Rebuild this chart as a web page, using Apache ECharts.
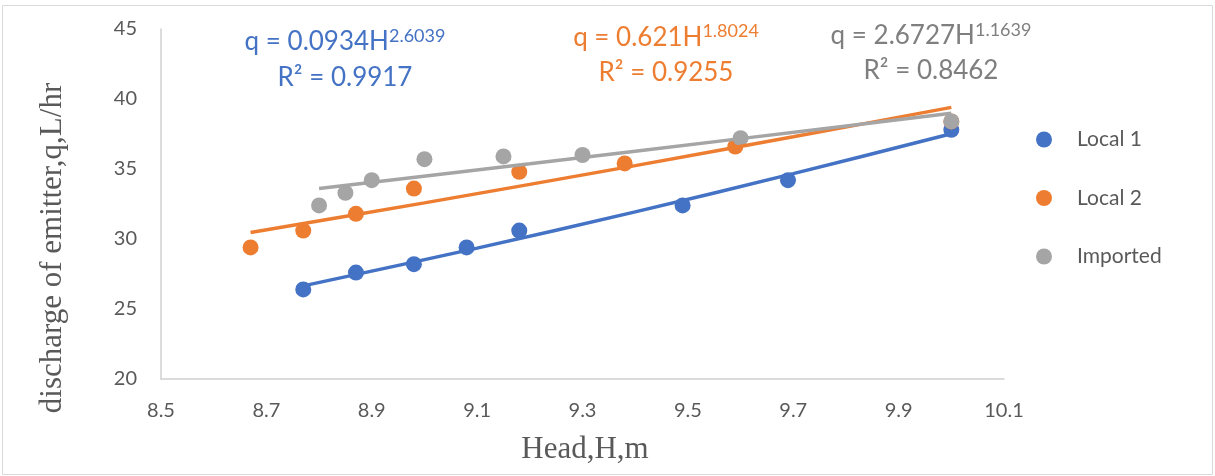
<!DOCTYPE html>
<html>
<head>
<meta charset="utf-8">
<script src="https://cdn.jsdelivr.net/npm/echarts@6/dist/echarts.min.js"></script>
<style>
html,body{margin:0;padding:0;background:#fff;}
#chart{width:1215px;height:476px;}
</style>
</head>
<body>
<div id="chart"></div>
<script>
// ---- data ----
const seriesNames = ['Local 1', 'Local 2', 'Imported'];
const local1H = [8.77, 8.87, 8.98, 9.08, 9.18, 9.49, 9.69, 10.0];
const local1Q = [26.4, 27.6, 28.2, 29.4, 30.6, 32.4, 34.2, 37.8];
const local2H = [8.67, 8.77, 8.87, 8.98, 9.18, 9.38, 9.59, 10.0];
const local2Q = [29.4, 30.6, 31.8, 33.6, 34.8, 35.4, 36.6, 38.4];
const importedH = [8.8, 8.85, 8.9, 9.0, 9.15, 9.3, 9.6, 10.0];
const importedQ = [32.4, 33.3, 34.2, 35.7, 35.9, 36.0, 37.2, 38.4];
// power trend lines
const trend1H = [8.77, 9.1, 9.4, 9.7, 10.0];
const trend1Q = [26.65, 29.35, 31.94, 34.67, 37.52];
const trend2H = [8.67, 9.0, 9.4, 9.7, 10.0];
const trend2Q = [30.46, 32.58, 35.24, 37.30, 39.40];
const trend3H = [8.8, 9.2, 9.6, 10.0];
const trend3Q = [33.60, 35.37, 37.17, 38.98];
// equation labels
const eqMain = ['q = 0.0934H', 'q = 0.621H', 'q = 2.6727H'];
const eqExp = ['2.6039', '1.8024', '1.1639'];
const eqR2 = ['R² = 0.9917', 'R² = 0.9255', 'R² = 0.8462'];
const xTickLabels = ['8.5', '8.7', '8.9', '9.1', '9.3', '9.5', '9.7', '9.9', '10.1'];
const yTickLabels = ['20', '25', '30', '35', '40', '45'];
const xTitle = 'Head,H,m';
const yTitle = 'discharge of emitter,q,L/hr';

const colors = ['#4472C4', '#ED7D31', '#A5A5A5'];
const eqColors = ['#4472C4', '#ED7D31', '#7F7F7F'];
const zip = (a, b) => a.map((v, i) => [v, b[i]]);

const chart = echarts.init(document.getElementById('chart'));
const sansFont = 'Lato, "Open Sans", sans-serif';
const serifFont = '"Liberation Serif", "DejaVu Serif", serif';

const eqPos = [
  {x: 345, y1: 42, y2: 77.5},
  {x: 666, y1: 37.5, y2: 72.5},
  {x: 931, y1: 36, y2: 71}
];

const graphics = [
  {type: 'rect', shape: {x: 2.5, y: 5.5, width: 1210, height: 469}, style: {fill: 'none', stroke: '#d9d9d9', lineWidth: 1}, silent: true, z: -1},
  {type: 'text', x: 585, y: 450, style: {text: xTitle, font: '31px ' + serifFont, fill: '#595959', align: 'center', verticalAlign: 'middle'}},
  {type: 'text', x: 53, y: 248, rotation: Math.PI / 2, style: {text: yTitle, font: '31px ' + serifFont, fill: '#595959', align: 'center', verticalAlign: 'middle'}}
];
eqPos.forEach((p, i) => {
  graphics.push({
    type: 'text', x: p.x, y: p.y1,
    style: {
      text: '{m|' + eqMain[i] + '}{e|' + eqExp[i] + '}',
      align: 'center', verticalAlign: 'middle',
      rich: {
        m: {fontFamily: sansFont, fontSize: 26, lineHeight: 30, fill: eqColors[i], verticalAlign: 'middle'},
        e: {fontFamily: sansFont, fontSize: 18, lineHeight: 18, fill: eqColors[i], verticalAlign: 'top'}
      }
    }
  });
  graphics.push({
    type: 'text', x: p.x, y: p.y2,
    style: {text: eqR2[i], font: '26px ' + sansFont, fill: eqColors[i], align: 'center', verticalAlign: 'middle'}
  });
});

const option = {
  animation: false,
  backgroundColor: '#ffffff',
  color: colors,
  grid: {left: 161, right: 211, top: 29, bottom: 97, containLabel: false},
  legend: {
    data: seriesNames,
    orient: 'vertical',
    left: 1031,
    top: 124,
    itemWidth: 16,
    itemHeight: 16,
    itemGap: 37.5,
    icon: 'circle',
    textStyle: {fontFamily: sansFont, fontSize: 21, color: '#595959', padding: [0, 0, 0, 20]}
  },
  xAxis: {
    type: 'value', min: 8.5, max: 10.1, interval: 0.2,
    axisLine: {show: true, lineStyle: {color: '#d0d0d0', width: 1.5}},
    axisTick: {show: false},
    splitLine: {show: false},
    axisLabel: {
      fontFamily: sansFont, fontSize: 20, color: '#595959', margin: 22,
      formatter: v => xTickLabels[Math.round((v - 8.5) / 0.2)] || ''
    }
  },
  yAxis: {
    type: 'value', min: 20, max: 45, interval: 5,
    axisLine: {show: true, lineStyle: {color: '#d0d0d0', width: 1.5}},
    axisTick: {show: false},
    splitLine: {show: false},
    axisLabel: {
      fontFamily: sansFont, fontSize: 20, color: '#595959', margin: 24,
      formatter: v => yTickLabels[Math.round((v - 20) / 5)] || ''
    }
  },
  series: [
    {name: seriesNames[0], type: 'scatter', symbolSize: 16, data: zip(local1H, local1Q), itemStyle: {color: colors[0], opacity: 1}},
    {name: seriesNames[1], type: 'scatter', symbolSize: 16, data: zip(local2H, local2Q), itemStyle: {color: colors[1], opacity: 1}},
    {name: seriesNames[2], type: 'scatter', symbolSize: 16, data: zip(importedH, importedQ), itemStyle: {color: colors[2], opacity: 1}},
    {name: 'trend1', type: 'line', data: zip(trend1H, trend1Q), showSymbol: false, smooth: 0.3, lineStyle: {color: colors[0], width: 3.5}, z: 3, silent: true},
    {name: 'trend2', type: 'line', data: zip(trend2H, trend2Q), showSymbol: false, smooth: 0.3, lineStyle: {color: colors[1], width: 3.5}, z: 3, silent: true},
    {name: 'trend3', type: 'line', data: zip(trend3H, trend3Q), showSymbol: false, smooth: 0.3, lineStyle: {color: colors[2], width: 3.5}, z: 3, silent: true}
  ],
  graphic: graphics
};
chart.setOption(option);
</script>
</body>
</html>
